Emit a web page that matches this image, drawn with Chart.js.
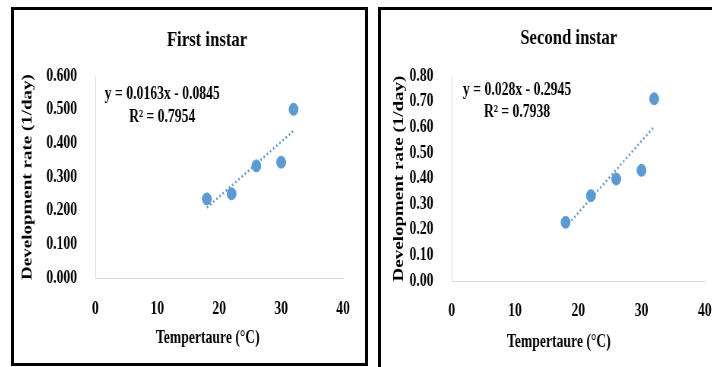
<!DOCTYPE html>
<html>
<head>
<meta charset="utf-8">
<script src="https://cdn.jsdelivr.net/npm/chart.js@4.4.1/dist/chart.umd.min.js"></script>
<style>
  body { margin: 0; width: 712px; height: 367px; overflow: hidden; position: relative; background: #fff; }
  .panel { position: absolute; border: 3px solid #000; overflow: hidden; background: #fff; }
  .panel canvas { transform: scaleX(0.76); transform-origin: 0 0; }
</style>
</head>
<body>
<div class="panel" style="left:11px; top:7px; width:351px; height:353px;">
  <canvas id="first" width="460" height="353"></canvas>
</div>
<div class="panel" style="left:378px; top:7px; width:352px; height:362px;">
  <canvas id="second" width="460" height="353"></canvas>
</div>
<script>
// temperatures (x) and development rates
var temps = [18, 22, 26, 30, 32];
var firstRate = [0.235, 0.250, 0.333, 0.344, 0.501];
var secondRate = [0.229, 0.333, 0.398, 0.432, 0.711];

// trendline end points
var trendTemps = [18, 32];
var firstTrend = [0.209, 0.437];
var secondTrend = [0.210, 0.602];

var firstEq = ["y = 0.0163x - 0.0845", "R\u00B2 = 0.7954"];
var secondEq = ["y = 0.028x - 0.2945", "R\u00B2 = 0.7938"];

var blue = "#5B9BD5";
var serif = "'Liberation Serif', 'Times New Roman', serif";

function toPoints(xs, ys) {
  var pts = [];
  for (var i = 0; i < xs.length; i++) {
    pts.push({ x: xs[i], y: ys[i] });
  }
  return pts;
}

// chart title, x axis title and trendline label
var panelText = {
  id: "panelText",
  afterDraw: function(chart, args, opts) {
    var ctx = chart.ctx;
    ctx.save();
    ctx.fillStyle = "#000";
    ctx.textAlign = "center";
    ctx.textBaseline = "middle";
    ctx.font = "bold 22px " + serif;
    ctx.fillText(opts.title, opts.titleAt[0], opts.titleAt[1]);
    ctx.font = "bold 18px " + serif;
    ctx.fillText("Tempertaure (\u00B0C)", opts.xTitleAt[0], opts.xTitleAt[1]);
    ctx.fillText(opts.eq[0], opts.eqAt[0], opts.eqAt[1]);
    ctx.fillText(opts.eq[1], opts.eqAt[0], opts.eqAt[2]);
    ctx.restore();
  }
};

function makeChart(id, rates, trend, cfg) {
  var ctx = document.getElementById(id).getContext("2d");
  return new Chart(ctx, {
    type: "scatter",
    data: {
      datasets: [{
        data: toPoints(temps, rates),
        backgroundColor: blue,
        borderColor: blue,
        pointRadius: 6,
        pointHoverRadius: 6
      }, {
        data: toPoints(trendTemps, trend),
        showLine: true,
        pointRadius: 0,
        borderColor: blue,
        borderWidth: 2.5,
        borderDash: [2, 3]
      }]
    },
    options: {
      responsive: false,
      animation: false,
      layout: { padding: { left: 0, top: 66, right: cfg.padRight, bottom: 0 } },
      plugins: {
        legend: { display: false },
        tooltip: { enabled: false },
        panelText: cfg.text
      },
      scales: {
        x: {
          min: 0,
          max: 40,
          grid: { display: false },
          border: { display: true, color: "#D9D9D9", width: 1 },
          ticks: {
            stepSize: 10,
            padding: cfg.xPad,
            color: "#000",
            font: { family: serif, size: 18, weight: "bold" }
          },
          afterFit: function(scale) { scale.height = cfg.xHeight; }
        },
        y: {
          min: 0,
          max: cfg.yMax,
          grid: { display: false },
          border: { display: true, color: "#D9D9D9", width: 1 },
          ticks: {
            stepSize: 0.1,
            padding: 16,
            color: "#000",
            font: { family: serif, size: 18, weight: "bold" },
            callback: function(v) { return v.toFixed(cfg.decimals); }
          },
          title: {
            display: true,
            text: "Development rate (1/day)",
            color: "#000",
            padding: { top: cfg.yTitlePad, bottom: 0 },
            font: { family: serif, size: 19, weight: "bold" }
          },
          afterFit: function(scale) { scale.width = cfg.yWidth; }
        }
      }
    },
    plugins: [panelText]
  });
}

makeChart("first", firstRate, firstTrend, {
  yMax: 0.6, decimals: 3, yWidth: 107, padRight: 27, xHeight: 85, xPad: 13, yTitlePad: 7,
  text: { title: "First instar", titleAt: [254, 30], xTitleAt: [255, 328], eq: firstEq, eqAt: [195, 84, 107] }
});

makeChart("second", secondRate, secondTrend, {
  yMax: 0.8, decimals: 2, yWidth: 93, padRight: 34, xHeight: 82, xPad: 12, yTitlePad: 13,
  text: { title: "Second instar", titleAt: [247, 28], xTitleAt: [234, 332], eq: secondEq, eqAt: [179, 80, 102] }
});
</script>
</body>
</html>
